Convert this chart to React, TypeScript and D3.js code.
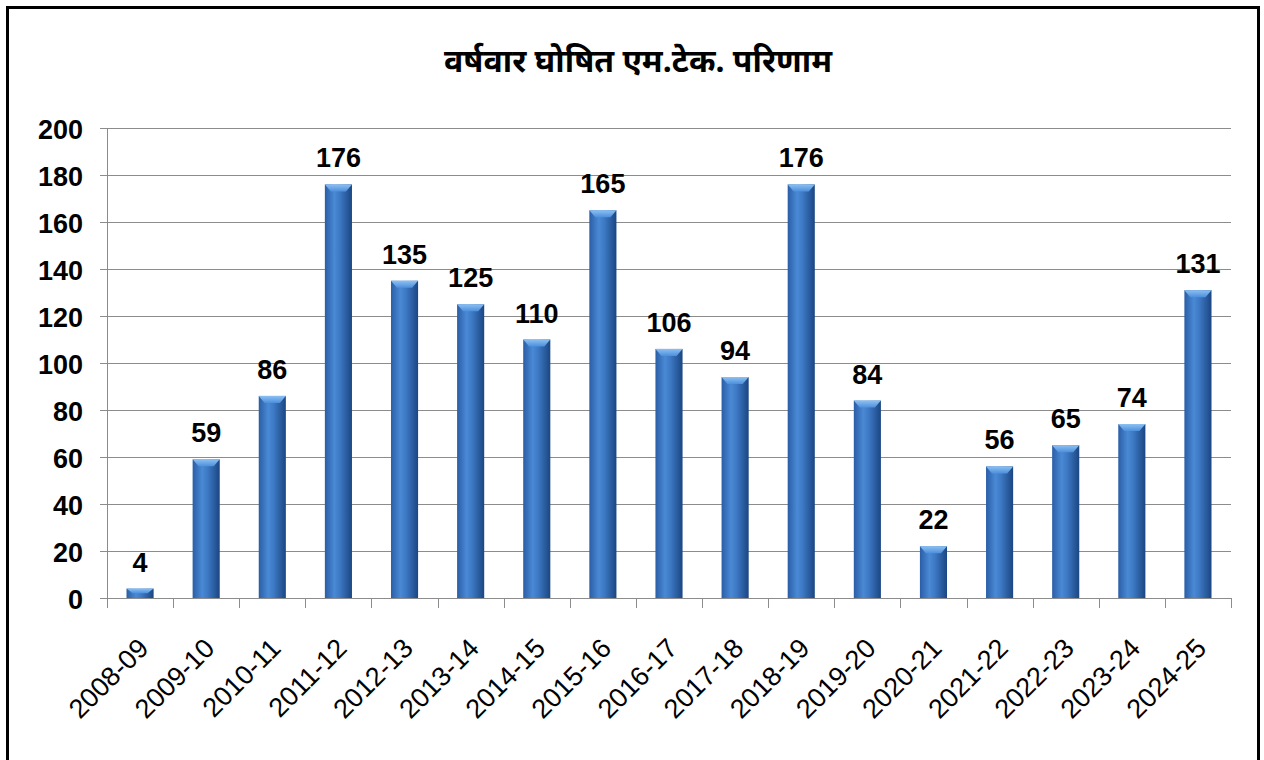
import React, {useRef, useEffect} from 'react';
import * as d3 from 'd3'

const years = ['2008-09', '2009-10', '2010-11', '2011-12', '2012-13', '2013-14', '2014-15', '2015-16', '2016-17', '2017-18', '2018-19', '2019-20', '2020-21', '2021-22', '2022-23', '2023-24', '2024-25']
const results = [4, 59, 86, 176, 135, 125, 110, 165, 106, 94, 176, 84, 22, 56, 65, 74, 131]
const yTicks = [0, 20, 40, 60, 80, 100, 120, 140, 160, 180, 200]
const title = 'वर्षवार घोषित एम.टेक. परिणाम'

const App = () => {
  const svgRef = useRef(null)

  useEffect(() => {
    const svg = d3.select(svgRef.current)
    svg.selectAll('*').remove()
    const width = 1264, height = 760
    const margin = {top: 128, right: 33, bottom: 162, left: 107}
    const innerW = width - margin.left - margin.right
    const innerH = height - margin.top - margin.bottom
    const font = '"Liberation Sans", Arial, sans-serif'

    // gradients for the bars
    const defs = svg.append('defs')
    const grad = defs.append('linearGradient').attr('id', 'barGrad')
      .attr('x1', '0%').attr('x2', '100%').attr('y1', '0%').attr('y2', '0%')
    grad.append('stop').attr('offset', '0%').attr('stop-color', '#2a5ea6')
    grad.append('stop').attr('offset', '35%').attr('stop-color', '#4a89d5')
    grad.append('stop').attr('offset', '55%').attr('stop-color', '#3d79c4')
    grad.append('stop').attr('offset', '100%').attr('stop-color', '#1b4682')
    const topGrad = defs.append('linearGradient').attr('id', 'topGrad')
      .attr('x1', '0%').attr('x2', '0%').attr('y1', '0%').attr('y2', '100%')
    topGrad.append('stop').attr('offset', '0%').attr('stop-color', '#8cc0f2')
    topGrad.append('stop').attr('offset', '100%').attr('stop-color', '#4d8fdc')

    svg.append('rect').attr('x', 0).attr('y', 0).attr('width', width).attr('height', height).attr('fill', '#fff')
    // outer frame
    svg.append('rect')
      .attr('x', 7.5).attr('y', 7.5).attr('width', 1251).attr('height', 770)
      .attr('fill', 'none').attr('stroke', '#000').attr('stroke-width', 3)

    svg.append('text')
      .attr('x', 638).attr('y', 72)
      .attr('text-anchor', 'middle')
      .attr('font-family', '"Noto Sans", "Lohit Devanagari", sans-serif')
      .attr('font-weight', 'bold')
      .attr('font-size', 32)
      .text(title)

    const g = svg.append('g').attr('transform', `translate(${margin.left},${margin.top})`)

    const x = d3.scaleBand().domain(years).range([0, innerW]).paddingInner(0.59).paddingOuter(0.295)
    const y = d3.scaleLinear().domain([0, 200]).range([innerH, 0])

    // grid lines + y ticks
    g.selectAll('.grid').data(yTicks).enter().append('line')
      .attr('x1', -7).attr('x2', innerW)
      .attr('y1', d => y(d) + 0.5).attr('y2', d => y(d) + 0.5)
      .attr('stroke', '#8c8c8c').attr('stroke-width', 1)

    g.selectAll('.ylab').data(yTicks).enter().append('text')
      .attr('x', -24).attr('y', d => y(d) + 11)
      .attr('text-anchor', 'end')
      .attr('font-family', font)
      .attr('font-weight', 'bold')
      .attr('font-size', 27)
      .text(d => d)

    // y axis line
    g.append('line').attr('x1', 0.5).attr('x2', 0.5).attr('y1', 0).attr('y2', innerH + 10)
      .attr('stroke', '#8c8c8c')

    // x ticks at band boundaries
    const step = x.step()
    g.selectAll('.xtick').data(d3.range(years.length + 1)).enter().append('line')
      .attr('x1', d => Math.round(d * step) + 0.5).attr('x2', d => Math.round(d * step) + 0.5)
      .attr('y1', innerH).attr('y2', innerH + 10)
      .attr('stroke', '#8c8c8c')

    // bars
    const bars = g.selectAll('.bar').data(results).enter().append('g')
    bars.append('rect')
      .attr('x', (d, i) => x(years[i]))
      .attr('y', d => y(d))
      .attr('width', x.bandwidth())
      .attr('height', d => innerH - y(d))
      .attr('fill', 'url(#barGrad)')
    bars.append('path')
      .attr('d', (d, i) => {
        const x0 = x(years[i]), w = x.bandwidth(), t = y(d)
        const h = Math.min(7, (innerH - t) / 2)
        return `M${x0},${t}L${x0 + w},${t}L${x0 + w - 6},${t + h}L${x0 + 6},${t + h}Z`
      })
      .attr('fill', 'url(#topGrad)')

    // value labels
    g.selectAll('.val').data(results).enter().append('text')
      .attr('x', (d, i) => x(years[i]) + x.bandwidth() / 2)
      .attr('y', d => y(d) - 17)
      .attr('text-anchor', 'middle')
      .attr('font-family', font)
      .attr('font-weight', 'bold')
      .attr('font-size', 27)
      .text(d => d)

    // rotated category labels
    g.selectAll('.xlab').data(years).enter().append('text')
      .attr('transform', d => `translate(${x(d) + x.bandwidth() / 2 + 10},${innerH + 52}) rotate(-45)`)
      .attr('text-anchor', 'end')
      .attr('font-family', font)
      .attr('font-size', 27)
      .text(d => d)
  }, [])

  return (
    <svg ref={svgRef} width={1264} height={760} style={{position: 'absolute', left: 0, top: 0}}></svg>
  )
}

export default App
